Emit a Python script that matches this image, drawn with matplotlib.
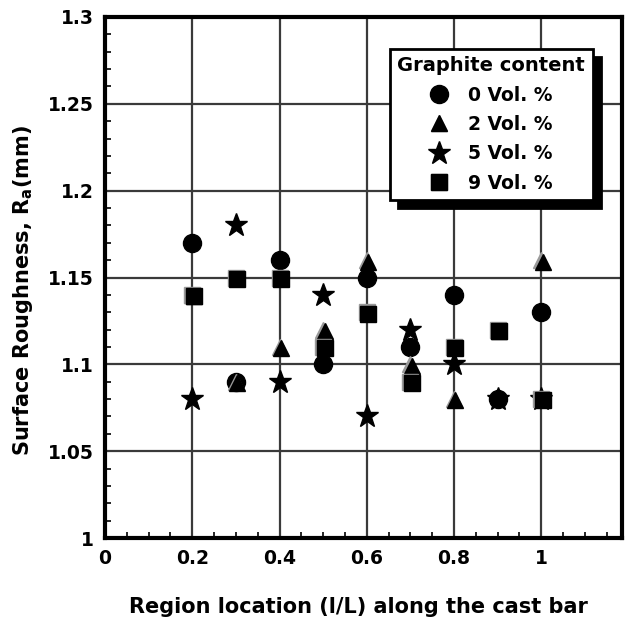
import numpy as np
import matplotlib
matplotlib.use('Agg')
import matplotlib.pyplot as plt
import matplotlib.transforms as mtransforms
from matplotlib.ticker import MultipleLocator
from matplotlib.legend_handler import HandlerTuple

# region location (l/L)
loc = [0.2, 0.3, 0.4, 0.5, 0.6, 0.7, 0.8, 0.9, 1.0]

# surface roughness Ra per graphite content
ra_0 = [1.17, 1.09, 1.16, 1.10, 1.15, 1.11, 1.14, 1.08, 1.13]
ra_2 = [1.14, 1.09, 1.11, 1.12, 1.16, 1.10, 1.08, 1.12, 1.16]
ra_5 = [1.08, 1.18, 1.09, 1.14, 1.07, 1.12, 1.10, 1.08, 1.08]
ra_9 = [1.14, 1.15, 1.15, 1.11, 1.13, 1.09, 1.11, 1.12, 1.08]

labels = ['0 Vol. %', '2 Vol. %', '5 Vol. %', '9 Vol. %']

plt.rcParams['font.family'] = ['DejaVu Sans']
plt.rcParams['font.weight'] = 'bold'
plt.rcParams['mathtext.fontset'] = 'custom'
plt.rcParams['mathtext.bf'] = 'DejaVu Sans:bold'
plt.rcParams['mathtext.rm'] = 'DejaVu Sans:bold'
plt.rcParams['mathtext.default'] = 'bf'

fig = plt.figure(figsize=(6.26, 6.20), dpi=100)
ax = fig.add_axes([105/626, 82/620, 517/626, 521/620])

# small offset for the shaded (gray -> black) look of triangles and squares
shift = ax.transData + mtransforms.ScaledTranslation(1.0/72, -1.0/72, fig.dpi_scale_trans)

h0, = ax.plot(loc, ra_0, 'o', color='k', markersize=13, linestyle='none', zorder=3)
t_g, = ax.plot(loc, ra_2, '^', color='#9a9a9a', markersize=12, linestyle='none', zorder=3)
t_k, = ax.plot(loc, ra_2, '^', color='k', markersize=11, linestyle='none', zorder=3,
               transform=shift)
h5, = ax.plot(loc, ra_5, '*', color='k', markersize=17, linestyle='none', zorder=4)
s_g, = ax.plot(loc, ra_9, 's', color='#9a9a9a', markersize=12, linestyle='none', zorder=4)
s_k, = ax.plot(loc, ra_9, 's', color='k', markersize=11, linestyle='none', zorder=4,
               transform=shift)

ax.set_xlim(0, 1.185)
ax.set_ylim(1.0, 1.3)
ax.xaxis.set_major_locator(MultipleLocator(0.2))
ax.xaxis.set_minor_locator(MultipleLocator(0.05))
ax.yaxis.set_major_locator(MultipleLocator(0.05))
ax.yaxis.set_minor_locator(MultipleLocator(0.01))
ax.xaxis.set_major_formatter(lambda v, p: '%g' % round(v, 2))
ax.yaxis.set_major_formatter(lambda v, p: '%g' % round(v, 2))
ax.tick_params(which='both', direction='in', labelsize=13.5, width=1.2)
ax.tick_params(which='major', length=0, pad=8)
ax.tick_params(which='minor', length=4)
ax.grid(True, which='major', color='#3a3a3a', linewidth=1.6, zorder=1)
ax.set_axisbelow(True)
for sp in ax.spines.values():
    sp.set_linewidth(3)

ax.set_xlabel('Region location (l/L) along the cast bar', fontsize=15,
              fontweight='bold')
ax.xaxis.set_label_coords(0.49, -0.113)
ax.set_ylabel('Surface Roughness, R$_a$(mm)', fontsize=15, fontweight='bold')
ax.yaxis.set_label_coords(-0.135, 0.475)

leg = ax.legend([h0, (t_g, t_k), h5, (s_g, s_k)], labels,
                handler_map={tuple: HandlerTuple(ndivide=1, pad=0)},
                title='Graphite content', loc='upper left',
                bbox_to_anchor=(0.551, 0.939), fontsize=13.5,
                title_fontproperties={'weight': 'bold', 'size': 14},
                frameon=True, fancybox=False, edgecolor='k', framealpha=1,
                borderpad=0.4, labelspacing=0.55, handlelength=0.9,
                handletextpad=1.1, borderaxespad=0,
                shadow={'ox': 6, 'oy': -6, 'facecolor': 'k', 'edgecolor': 'k', 'alpha': 1})
leg.get_frame().set_linewidth(2)
leg.set_zorder(6)

fig.savefig('out.png', dpi=100)
